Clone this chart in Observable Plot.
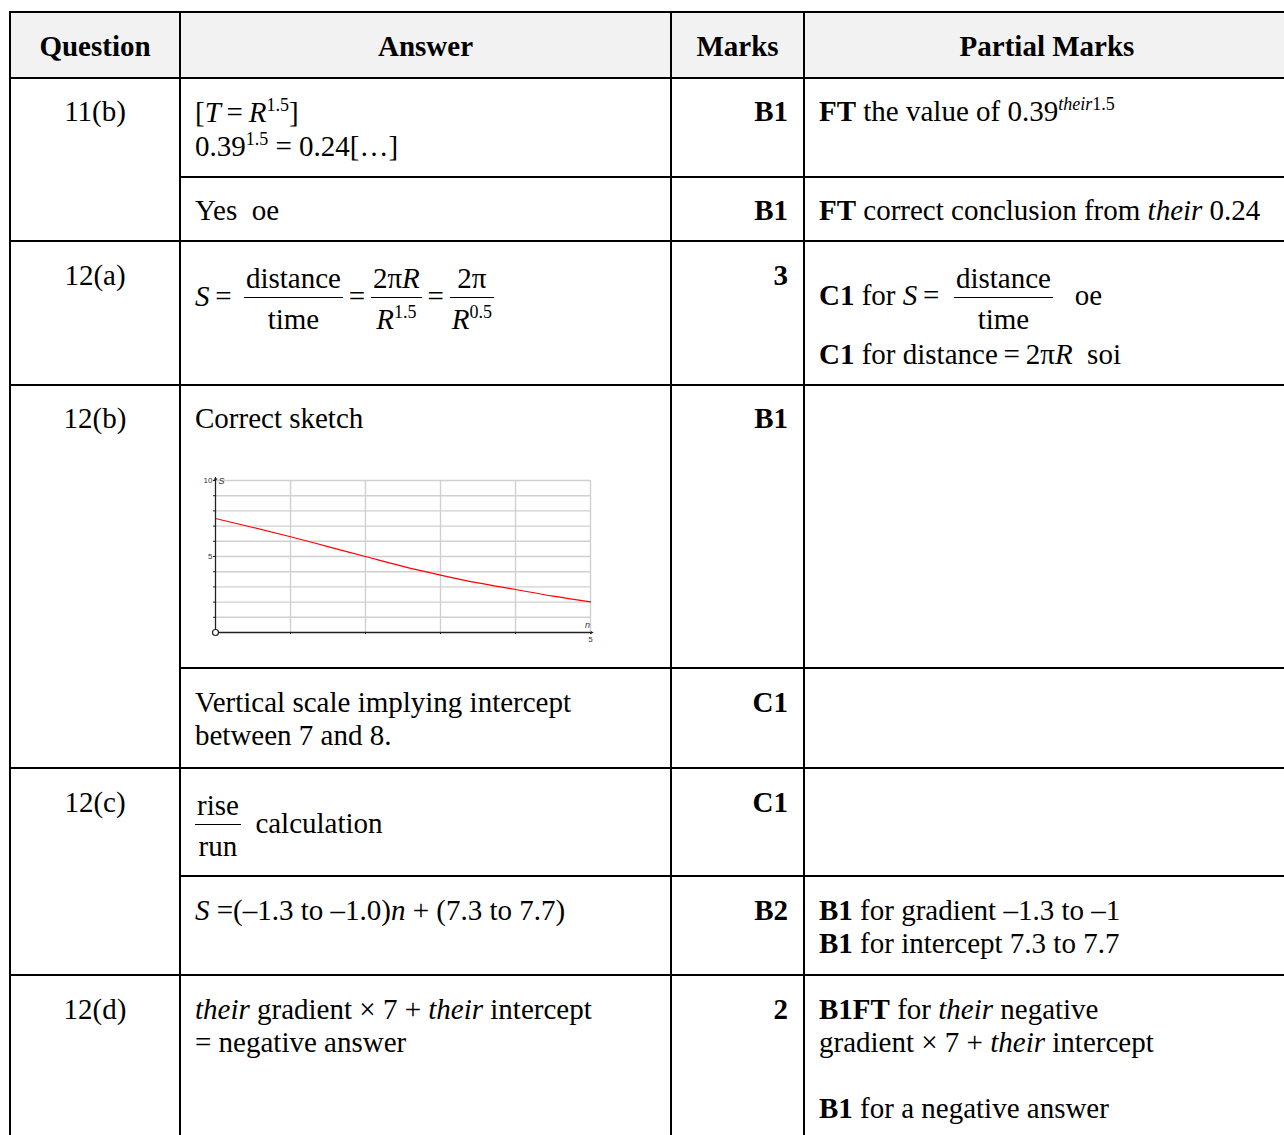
<!DOCTYPE html>
<html><head><meta charset="utf-8">
<script src="https://cdn.jsdelivr.net/npm/d3@7"></script>
<script src="https://cdn.jsdelivr.net/npm/@observablehq/plot@0.6"></script>
<style>
html,body{margin:0;padding:0;background:#fff;overflow:hidden;width:1284px;height:1135px}
body{font-family:"Liberation Serif","Times New Roman",serif;font-size:29px;color:#000;position:relative}
table{position:absolute;left:9px;top:11px;border-collapse:collapse;table-layout:fixed;width:1280px}
td,th{border:2px solid #000;vertical-align:top;padding:16px 14px 0 14px;line-height:33px;overflow:hidden}
th{background:#f2f2f2;vertical-align:middle;padding:3px 0 0 0;font-weight:bold;text-align:center}
td.q{text-align:center;padding-left:0;padding-right:0}
td.m{text-align:right;padding-right:15px;font-weight:bold}
.sup{font-size:18px;position:relative;top:-11px;line-height:0}
.frac{display:inline-block;vertical-align:middle;text-align:center}
.num{display:block;line-height:38px;padding:0 2px}
.den{display:block;line-height:42px;border-top:1.5px solid #000;padding:0 2px}
.p17 td{padding-top:17px}
#chart{margin-top:39px;width:410px;height:175px}
</style></head>
<body>
<table>
<colgroup><col style="width:170px"><col style="width:491px"><col style="width:133px"><col style="width:486px"></colgroup>
<tr style="height:66px"><th>Question</th><th>Answer</th><th>Marks</th><th>Partial Marks</th></tr>
<tr style="height:99px">
 <td class="q" rowspan="2">11(b)</td>
 <td style="line-height:34px">[<i>T</i>&#8201;=&#8201;<i>R</i><span class="sup">1.5</span>]<br>0.39<span class="sup">1.5</span> = 0.24[…]</td>
 <td class="m">B1</td>
 <td><b>FT</b> the value of 0.39<span class="sup"><i>their</i>1.5</span></td>
</tr>
<tr style="height:64px">
 <td>Yes&nbsp; oe</td>
 <td class="m">B1</td>
 <td><b>FT</b> correct conclusion from <i>their</i> 0.24</td>
</tr>
<tr class="p17" style="height:144px">
 <td class="q">12(a)</td>
 <td><i>S</i>&#8201;=&nbsp;<span class="frac" style="margin-left:5px"><span class="num">distance</span><span class="den">time</span></span>&#8201;=&#8201;<span class="frac"><span class="num">2π<i>R</i></span><span class="den"><i>R</i><span class="sup">1.5</span></span></span>&#8201;=&#8201;<span class="frac"><span class="num">2π</span><span class="den"><i>R</i><span class="sup">0.5</span></span></span></td>
 <td class="m">3</td>
 <td><b>C1</b> for <i>S</i>&#8201;=&nbsp; <span class="frac" style="margin-bottom:-2px"><span class="num">distance</span><span class="den">time</span></span> &nbsp; oe<br><b>C1</b> for distance&#8201;=&#8201;2π<i>R</i>&nbsp; soi</td>
</tr>
<tr style="height:283px">
 <td class="q" rowspan="2">12(b)</td>
 <td>Correct sketch<div id="chart"></div></td>
 <td class="m">B1</td>
 <td></td>
</tr>
<tr class="p17" style="height:100px">
 <td>Vertical scale implying intercept<br>between 7 and 8.</td>
 <td class="m">C1</td>
 <td></td>
</tr>
<tr class="p17" style="height:108px">
 <td class="q" rowspan="2">12(c)</td>
 <td><span class="frac"><span class="num">rise</span><span class="den">run</span></span>&nbsp; calculation</td>
 <td class="m">C1</td>
 <td></td>
</tr>
<tr class="p17" style="height:99px">
 <td><i>S</i> =(–1.3 to –1.0)<i>n</i> + (7.3 to 7.7)</td>
 <td class="m">B2</td>
 <td><b>B1</b> for gradient –1.3 to –1<br><b>B1</b> for intercept 7.3 to 7.7</td>
</tr>
<tr class="p17" style="height:200px">
 <td class="q">12(d)</td>
 <td><i>their</i> gradient × 7 + <i>their</i> intercept<br>= negative answer</td>
 <td class="m">2</td>
 <td><b>B1FT</b> for <i>their</i> negative<br>gradient × 7 + <i>their</i> intercept<br><br><b>B1</b> for a negative answer</td>
</tr>
</table>
<script>
// Sketch data
const nValues = [0, 0.5, 1, 1.5, 2, 2.5, 3, 3.5, 4, 4.5, 5];
const sValues = [7.5, 6.91, 6.3, 5.65, 5.0, 4.35, 3.78, 3.26, 2.83, 2.39, 2.02];
const nGrid = [1, 2, 3, 4, 5];
const sGrid = [1, 2, 3, 4, 5, 6, 7, 8, 9, 10];
const nTicks = [0, 1, 2, 3, 4, 5];
const sTicks = [0, 1, 2, 3, 4, 5, 6, 7, 8, 9, 10];
const sLabels = [5, 10];
const nLabels = [5];
const xLabel = "n";
const yLabel = "S";

const curve = nValues.map((n, i) => ({n, s: sValues[i]}));
const axisColor = "#222";
const gridColor = "#d0d0d0";

const chart = Plot.plot({
  width: 410, height: 175,
  marginLeft: 20, marginRight: 15, marginTop: 6, marginBottom: 17,
  x: {domain: [0, 5]},
  y: {domain: [0, 10]},
  style: {fontFamily: "'Liberation Sans', Arial, sans-serif", fontSize: "8px", color: "#333", background: "transparent", overflow: "visible"},
  marks: [
    Plot.ruleX(nGrid, {y1: 0, y2: 10, stroke: gridColor, strokeWidth: 1.4}),
    Plot.ruleY(sGrid, {x1: 0, x2: 5, stroke: gridColor, strokeWidth: 1.4}),
    Plot.line(curve, {x: "n", y: "s", stroke: "#ff0000", strokeWidth: 1.2, curve: "monotone-x"}),
    Plot.ruleX([0], {y1: 0, y2: 10, stroke: axisColor, strokeWidth: 1.3}),
    Plot.ruleY([0], {x1: 0, x2: 5, stroke: axisColor, strokeWidth: 1.3}),
    Plot.axisY({ticks: sTicks, tickSize: 2, tickPadding: 1, stroke: axisColor, tickFormat: d => sLabels.includes(d) ? String(d) : "", label: null}),
    Plot.axisX({ticks: nTicks, tickSize: 2, tickPadding: 2, stroke: axisColor, tickFormat: d => nLabels.includes(d) ? String(d) : "", label: null}),
    Plot.arrow([{x1: 0, y1: 9.7, x2: 0, y2: 10.2}], {x1: "x1", y1: "y1", x2: "x2", y2: "y2", stroke: axisColor, strokeWidth: 1, headLength: 4}),
    Plot.arrow([{x1: 4.95, y1: 0, x2: 5.03, y2: 0}], {x1: "x1", y1: "y1", x2: "x2", y2: "y2", stroke: axisColor, strokeWidth: 1, headLength: 4}),
    Plot.dot([{x: 0, y: 0}], {x: "x", y: "y", r: 3, stroke: axisColor, fill: "white", strokeWidth: 1.2}),
    Plot.text([{x: 0, y: 10}], {x: "x", y: "y", text: () => yLabel, dx: 3, dy: 1, textAnchor: "start", fontStyle: "italic", fontSize: 9, fill: "#333"}),
    Plot.text([{x: 5, y: 0}], {x: "x", y: "y", text: () => xLabel, dx: -3, dy: -7, fontStyle: "italic", fontSize: 9, fill: "#333"})
  ]
});
document.getElementById("chart").appendChild(chart);
</script>
</body></html>
